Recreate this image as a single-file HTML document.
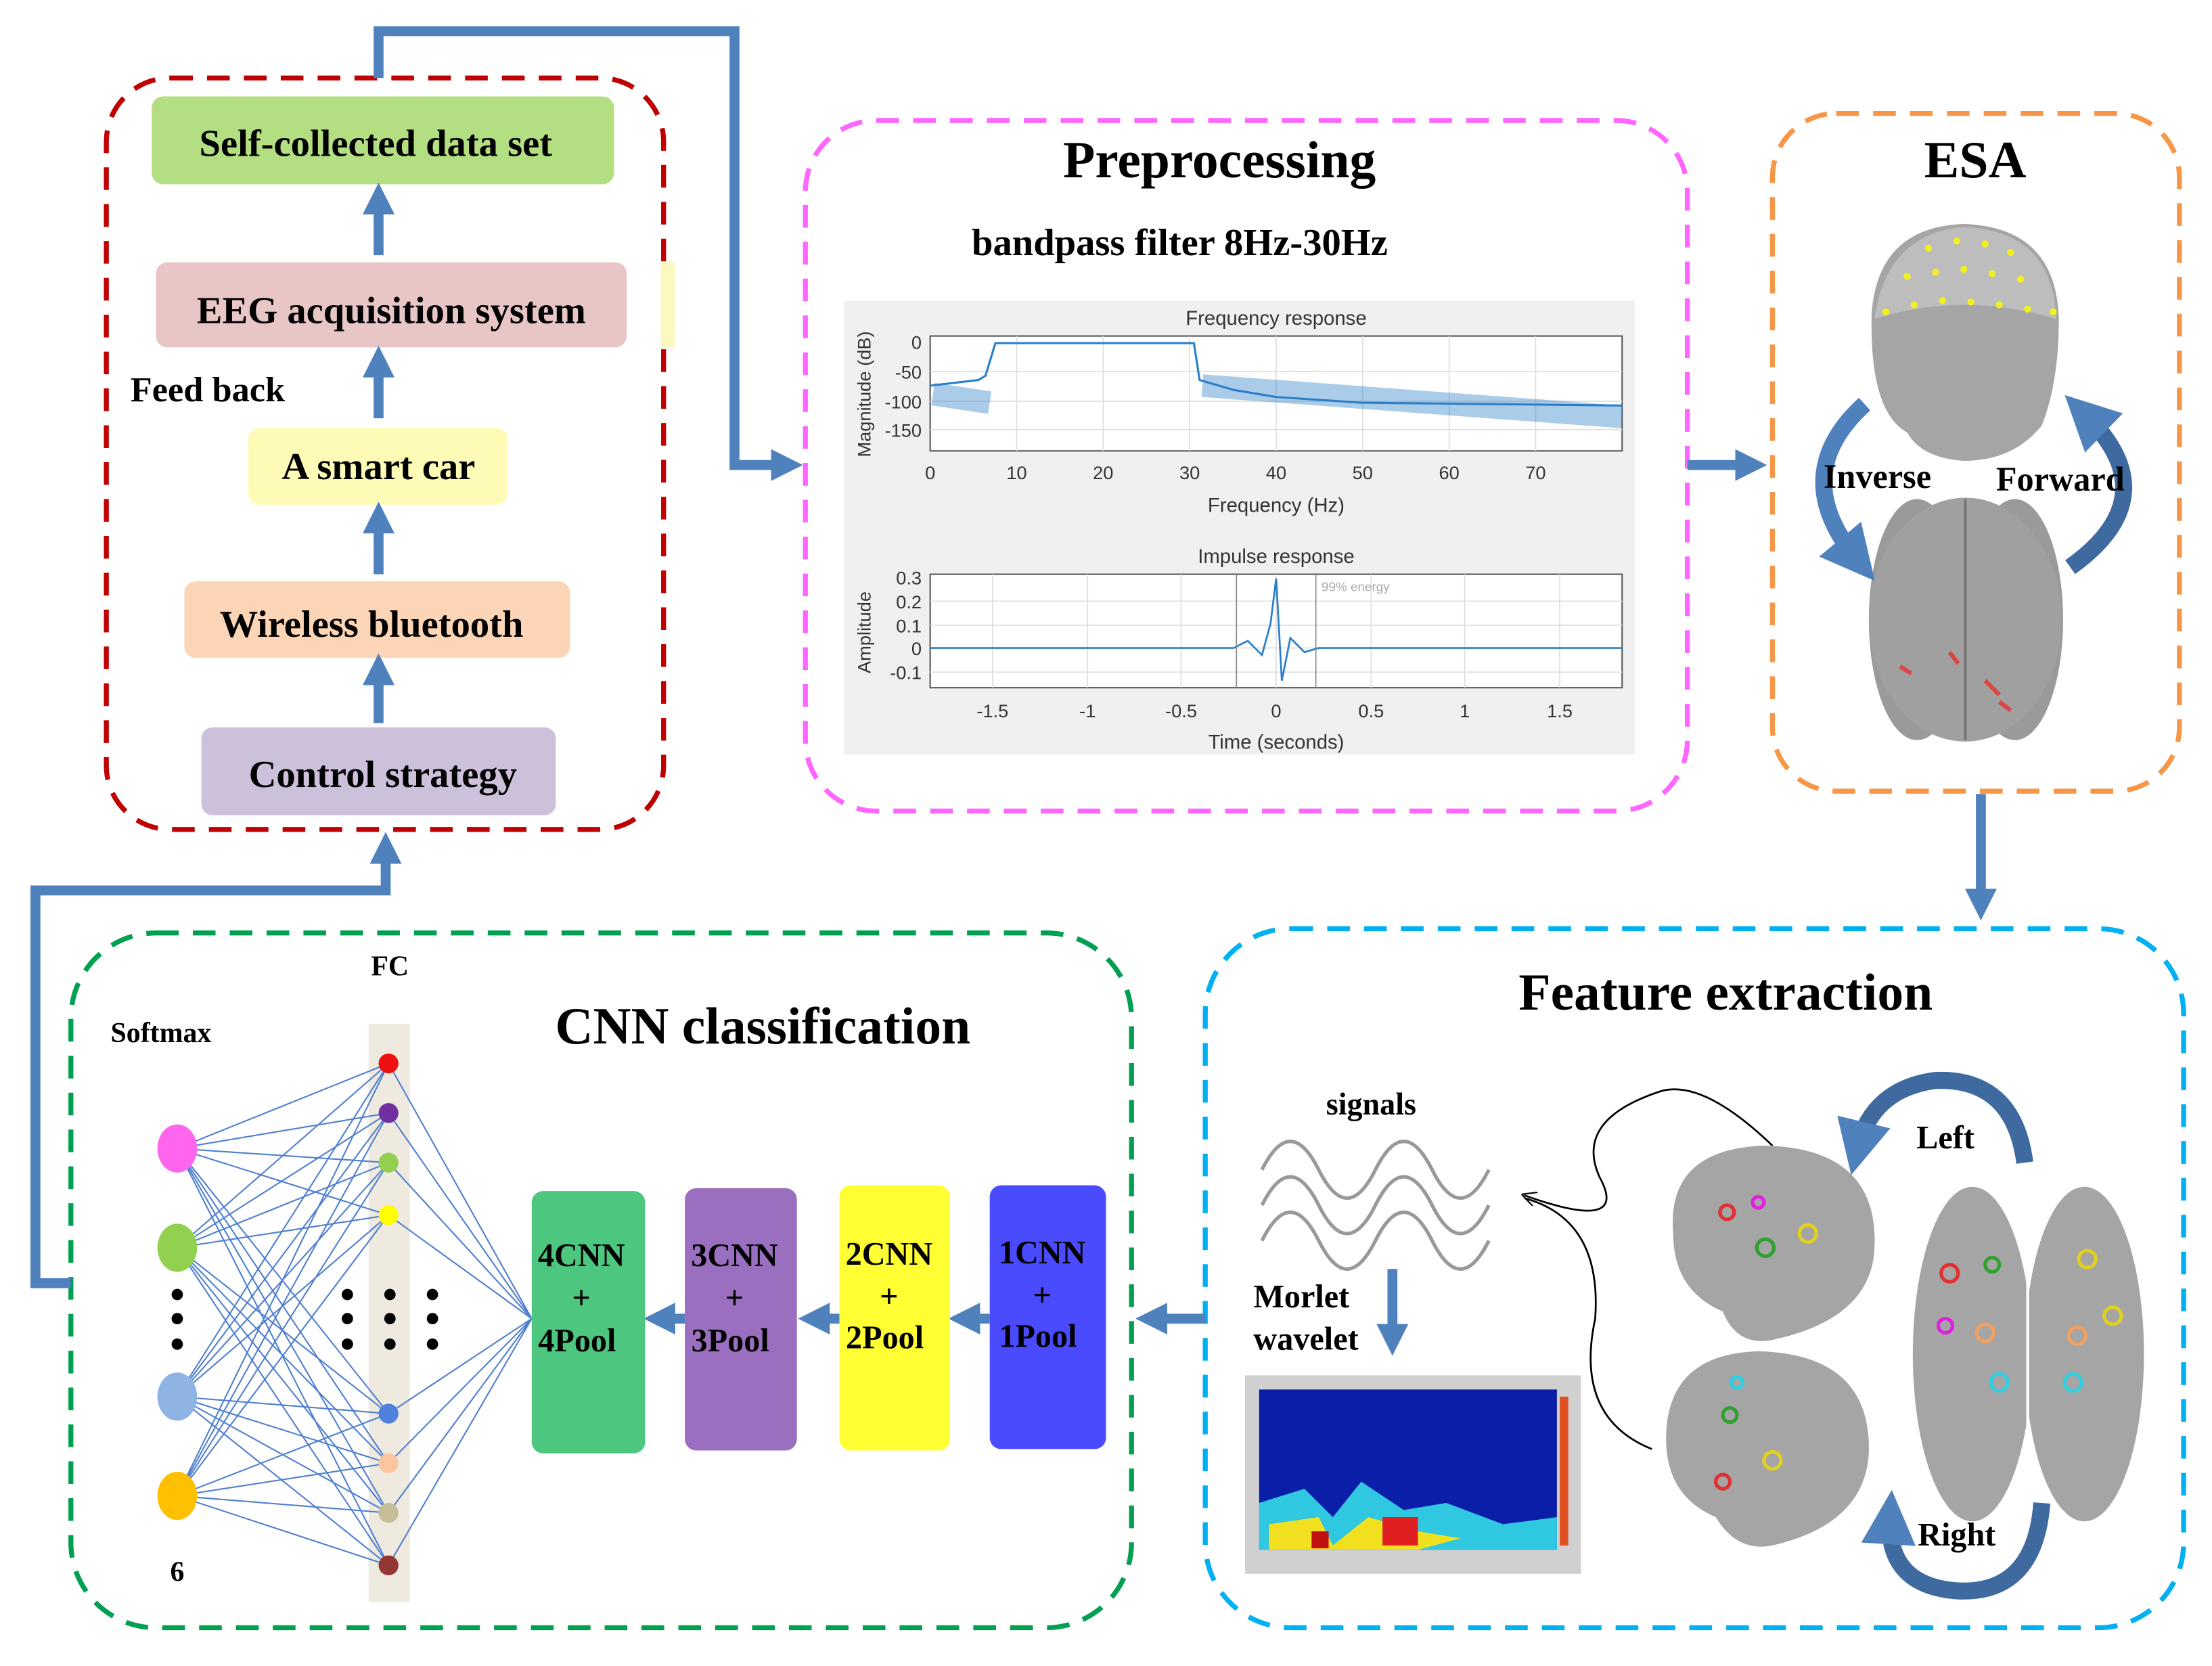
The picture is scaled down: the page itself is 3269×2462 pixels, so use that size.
<!DOCTYPE html>
<html><head><meta charset="utf-8"><style>
html,body{margin:0;padding:0;background:#fff;}
svg{display:block;}
text{font-family:"Liberation Serif",serif;font-weight:bold;}
.s{font-family:"Liberation Sans",sans-serif;font-weight:normal;}
</style></head><body>
<svg width="3269" height="2462" viewBox="0 0 1560 1175" preserveAspectRatio="none" xmlns="http://www.w3.org/2000/svg">
<defs>
<marker id="ah" viewBox="0 0 10 10" refX="5" refY="5" markerWidth="3.2" markerHeight="3.2" orient="auto"><path d="M0,0 L10,5 L0,10 z" fill="#4f81bd"/></marker>
<marker id="ab" viewBox="0 0 10 10" refX="8" refY="5" markerWidth="8" markerHeight="8" orient="auto"><path d="M0,0 L10,5 L0,10" fill="none" stroke="#000" stroke-width="1"/></marker>
</defs>
<rect x="75" y="55" width="393" height="530" rx="45" fill="none" stroke="#c00000" stroke-width="3.5" stroke-dasharray="16,10"/>
<rect x="568" y="85" width="622" height="487" rx="50" fill="none" stroke="#ff66ff" stroke-width="3.5" stroke-dasharray="16,10"/>
<rect x="1250" y="80" width="287" height="478" rx="45" fill="none" stroke="#f79646" stroke-width="3.5" stroke-dasharray="16,10"/>
<rect x="850" y="655" width="690" height="493" rx="60" fill="none" stroke="#00b0f0" stroke-width="3.5" stroke-dasharray="16,10"/>
<rect x="50" y="658" width="748" height="490" rx="60" fill="none" stroke="#00a050" stroke-width="3.5" stroke-dasharray="16,10"/>

<rect x="107" y="68" width="326" height="62" rx="8" fill="#b3de81"/>
<text x="265" y="110" font-size="27" text-anchor="middle">Self-collected  data set</text>
<rect x="110" y="185" width="332" height="60" rx="8" fill="#e9c6c6"/>
<rect x="466" y="185" width="10" height="60" fill="#fdf8c0"/>
<text x="276" y="228" font-size="27" text-anchor="middle">EEG acquisition system</text>
<text x="92" y="283" font-size="25">Feed back</text>
<rect x="175" y="302" width="183" height="54" rx="8" fill="#fdfbb5"/>
<text x="267" y="338" font-size="27" text-anchor="middle">A smart car</text>
<rect x="130" y="410" width="272" height="54" rx="8" fill="#fbd5b5"/>
<text x="262" y="449" font-size="27" text-anchor="middle">Wireless bluetooth</text>
<rect x="142" y="513" width="250" height="62" rx="8" fill="#ccc0da"/>
<text x="270" y="555" font-size="27" text-anchor="middle">Control strategy</text>
<g stroke="#4f81bd" stroke-width="7" fill="none" marker-end="url(#ah)">
<line x1="267" y1="180" x2="267" y2="140"/>
<line x1="267" y1="295" x2="267" y2="255"/>
<line x1="267" y1="405" x2="267" y2="365"/>
<line x1="267" y1="510" x2="267" y2="472"/>
<polyline points="267,55 267,22 518,22 518,328 555,328"/>
<line x1="1190" y1="328" x2="1235" y2="328"/>
<line x1="1397" y1="560" x2="1397" y2="638"/>
<polyline points="50,905 25,905 25,628 272,628 272,598"/>
<line x1="850" y1="930" x2="812" y2="930"/>
<line x1="698" y1="930" x2="680" y2="930"/>
<line x1="592" y1="930" x2="574" y2="930"/>
<line x1="483" y1="930" x2="465" y2="930"/>
<line x1="982" y1="895" x2="982" y2="945"/>
</g>

<text x="860" y="125" font-size="37" text-anchor="middle">Preprocessing</text>
<text x="832" y="180" font-size="27" text-anchor="middle">bandpass filter 8Hz-30Hz</text>
<rect x="595" y="212" width="558" height="320" fill="#f0f0f0"/>
<rect x="656" y="237" width="488" height="81" fill="#fff" stroke="#555" stroke-width="1"/>
<rect x="656" y="405" width="488" height="80" fill="#fff" stroke="#555" stroke-width="1"/>
<g stroke="#ddd" stroke-width="0.8">
<line x1="717" y1="237" x2="717" y2="318"/><line x1="778" y1="237" x2="778" y2="318"/><line x1="839" y1="237" x2="839" y2="318"/><line x1="900" y1="237" x2="900" y2="318"/><line x1="961" y1="237" x2="961" y2="318"/><line x1="1022" y1="237" x2="1022" y2="318"/><line x1="1083" y1="237" x2="1083" y2="318"/>
<line x1="656" y1="262" x2="1144" y2="262"/><line x1="656" y1="283" x2="1144" y2="283"/><line x1="656" y1="303" x2="1144" y2="303"/>
<line x1="700" y1="405" x2="700" y2="485"/><line x1="767" y1="405" x2="767" y2="485"/><line x1="833" y1="405" x2="833" y2="485"/><line x1="900" y1="405" x2="900" y2="485"/><line x1="967" y1="405" x2="967" y2="485"/><line x1="1033" y1="405" x2="1033" y2="485"/><line x1="1100" y1="405" x2="1100" y2="485"/>
<line x1="656" y1="424" x2="1144" y2="424"/><line x1="656" y1="441" x2="1144" y2="441"/><line x1="656" y1="457" x2="1144" y2="457"/><line x1="656" y1="474" x2="1144" y2="474"/>
</g>
<path d="M656,272 L690,268 L695,265 L702,242 L842,242 L846,268 L870,275 L900,280 L960,284 L1144,286" fill="none" stroke="#2a7fc8" stroke-width="1.5"/>
<path d="M658,278 L698,284 M848,272 L1144,294" stroke="#2a7fc8" stroke-width="16" opacity="0.4" fill="none"/>
<path d="M656,457 L870,457 L880,452 L890,462 L896,440 L900,408 L904,480 L910,450 L920,460 L930,457 L1144,457" fill="none" stroke="#2a7fc8" stroke-width="1.3"/>
<line x1="872" y1="405" x2="872" y2="485" stroke="#888" stroke-width="0.8"/><line x1="928" y1="405" x2="928" y2="485" stroke="#888" stroke-width="0.8"/>
<g class="s" font-size="13" fill="#333">
<text class="s" x="900" y="229" text-anchor="middle" font-size="14">Frequency response</text>
<text class="s" x="650" y="246" text-anchor="end">0</text><text class="s" x="650" y="267" text-anchor="end">-50</text><text class="s" x="650" y="288" text-anchor="end">-100</text><text class="s" x="650" y="308" text-anchor="end">-150</text>
<text class="s" x="656" y="338" text-anchor="middle">0</text><text class="s" x="717" y="338" text-anchor="middle">10</text><text class="s" x="778" y="338" text-anchor="middle">20</text><text class="s" x="839" y="338" text-anchor="middle">30</text><text class="s" x="900" y="338" text-anchor="middle">40</text><text class="s" x="961" y="338" text-anchor="middle">50</text><text class="s" x="1022" y="338" text-anchor="middle">60</text><text class="s" x="1083" y="338" text-anchor="middle">70</text>
<text class="s" x="900" y="361" text-anchor="middle" font-size="14">Frequency (Hz)</text>
<text class="s" x="614" y="278" text-anchor="middle" transform="rotate(-90 614 278)">Magnitude (dB)</text>
<text class="s" x="900" y="397" text-anchor="middle" font-size="14">Impulse response</text>
<text class="s" x="650" y="412" text-anchor="end">0.3</text><text class="s" x="650" y="429" text-anchor="end">0.2</text><text class="s" x="650" y="446" text-anchor="end">0.1</text><text class="s" x="650" y="462" text-anchor="end">0</text><text class="s" x="650" y="479" text-anchor="end">-0.1</text>
<text class="s" x="700" y="506" text-anchor="middle">-1.5</text><text class="s" x="767" y="506" text-anchor="middle">-1</text><text class="s" x="833" y="506" text-anchor="middle">-0.5</text><text class="s" x="900" y="506" text-anchor="middle">0</text><text class="s" x="967" y="506" text-anchor="middle">0.5</text><text class="s" x="1033" y="506" text-anchor="middle">1</text><text class="s" x="1100" y="506" text-anchor="middle">1.5</text>
<text class="s" x="900" y="528" text-anchor="middle" font-size="14">Time (seconds)</text>
<text class="s" x="614" y="446" text-anchor="middle" transform="rotate(-90 614 446)">Amplitude</text>
<text class="s" x="932" y="417" font-size="9" fill="#aaa">99% energy</text>
</g>

<text x="1393" y="125" font-size="37" text-anchor="middle">ESA</text>
<path d="M1320,220 Q1325,160 1385,158 Q1450,160 1452,225 Q1452,270 1440,300 Q1420,325 1385,325 Q1355,323 1345,305 Q1318,290 1320,220 z" fill="#a5a5a5"/>
<path d="M1322,225 Q1330,165 1385,160 Q1448,163 1450,225 Q1385,205 1322,225 z" fill="#bdbdbd"/>
<g fill="#f0f020">
<circle cx="1330" cy="220" r="2.5"/><circle cx="1350" cy="215" r="2.5"/><circle cx="1370" cy="212" r="2.5"/><circle cx="1390" cy="213" r="2.5"/><circle cx="1410" cy="215" r="2.5"/><circle cx="1430" cy="218" r="2.5"/><circle cx="1448" cy="220" r="2.5"/>
<circle cx="1345" cy="195" r="2.5"/><circle cx="1365" cy="192" r="2.5"/><circle cx="1385" cy="190" r="2.5"/><circle cx="1405" cy="193" r="2.5"/><circle cx="1425" cy="197" r="2.5"/>
<circle cx="1360" cy="175" r="2.5"/><circle cx="1380" cy="170" r="2.5"/><circle cx="1400" cy="172" r="2.5"/><circle cx="1418" cy="178" r="2.5"/>
</g>
<ellipse cx="1352" cy="437" rx="34" ry="85" fill="#9a9a9a"/>
<ellipse cx="1421" cy="437" rx="34" ry="85" fill="#9a9a9a"/>
<ellipse cx="1386" cy="437" rx="68" ry="86" fill="#a0a0a0"/>
<line x1="1386" y1="352" x2="1386" y2="522" stroke="#777" stroke-width="2"/>
<path d="M1340,470 l8,5 M1375,460 l6,8 M1400,480 l10,10 M1410,495 l8,6" stroke="#d44" stroke-width="3"/>
<path d="M1315,285 Q1260,335 1310,395" fill="none" stroke="#4f81bd" stroke-width="12" marker-end="url(#ah)"/>
<path d="M1460,400 Q1530,350 1470,292" fill="none" stroke="#3f6aa0" stroke-width="12" marker-end="url(#ah)"/>
<text x="1324" y="344" font-size="24" text-anchor="middle">Inverse</text>
<text x="1453" y="346" font-size="24" text-anchor="middle">Forward</text>

<text x="1217" y="712" font-size="37" text-anchor="middle">Feature extraction</text>
<text x="967" y="786" font-size="22" text-anchor="middle">signals</text>
<g fill="none" stroke="#999" stroke-width="2.5">
<path d="M890,825 q20,-40 40,0 t40,0 t40,0 t40,0"/>
<path d="M890,850 q20,-40 40,0 t40,0 t40,0 t40,0"/>
<path d="M890,875 q20,-40 40,0 t40,0 t40,0 t40,0"/>
</g>
<text x="884" y="922" font-size="23">Morlet</text>
<text x="884" y="952" font-size="23">wavelet</text>
<rect x="878" y="970" width="237" height="140" fill="#d0d0d0"/>
<rect x="888" y="980" width="210" height="113" fill="#0a1ea8"/>
<path d="M888,1060 L920,1050 L940,1070 L960,1045 L990,1065 L1020,1060 L1060,1075 L1098,1070 L1098,1093 L888,1093 z" fill="#30c8e0"/>
<path d="M895,1075 L930,1070 L940,1090 L965,1070 L1000,1080 L1030,1085 L1000,1093 L895,1093 z" fill="#f0e020"/>
<rect x="975" y="1070" width="25" height="20" fill="#e02020"/><rect x="925" y="1080" width="12" height="12" fill="#c01010"/>
<rect x="1100" y="985" width="6" height="105" fill="#e05020"/>
<path d="M1250,808 Q1200,760 1170,770 Q1110,790 1128,830 Q1150,870 1075,843" fill="none" stroke="#000" stroke-width="1.3" marker-end="url(#ab)"/>
<path d="M1165,1022 Q1110,1000 1125,930 Q1130,860 1075,845" fill="none" stroke="#000" stroke-width="1.3"/>
<path d="M1180,870 Q1175,810 1245,808 Q1325,810 1322,880 Q1320,930 1250,945 Q1225,950 1215,925 Q1180,910 1180,870 z" fill="#a5a5a5"/>
<path d="M1175,1015 Q1175,955 1240,953 Q1320,955 1318,1025 Q1315,1075 1250,1090 Q1225,1095 1210,1070 Q1175,1055 1175,1015 z" fill="#a5a5a5"/>
<ellipse cx="1391" cy="955" rx="42" ry="118" fill="#a5a5a5"/>
<ellipse cx="1470" cy="955" rx="42" ry="118" fill="#a5a5a5"/>
<line x1="1430" y1="838" x2="1430" y2="1072" stroke="#fff" stroke-width="2"/>
<g stroke-width="2.5" fill="none">
<circle cx="1218" cy="855" r="5" stroke="#e03030"/><circle cx="1245" cy="880" r="6" stroke="#30a030"/><circle cx="1275" cy="870" r="6" stroke="#e0d020"/><circle cx="1240" cy="848" r="4" stroke="#e020e0"/>
<circle cx="1220" cy="998" r="5" stroke="#30a030"/><circle cx="1250" cy="1030" r="6" stroke="#e0d020"/><circle cx="1215" cy="1045" r="5" stroke="#e03030"/><circle cx="1225" cy="975" r="4" stroke="#30d0e0"/>
<circle cx="1375" cy="898" r="6" stroke="#e03030"/><circle cx="1405" cy="892" r="5" stroke="#30a030"/><circle cx="1472" cy="888" r="6" stroke="#e0d020"/><circle cx="1372" cy="935" r="5" stroke="#e020e0"/><circle cx="1400" cy="940" r="6" stroke="#f0a060"/><circle cx="1465" cy="942" r="6" stroke="#f0a060"/><circle cx="1490" cy="928" r="6" stroke="#e0d020"/><circle cx="1410" cy="975" r="6" stroke="#30d0e0"/><circle cx="1462" cy="975" r="6" stroke="#30d0e0"/>
</g>
<path d="M1428,820 Q1420,760 1365,762 Q1320,768 1310,810" fill="none" stroke="#3f6aa0" stroke-width="12" marker-end="url(#ah)"/>
<path d="M1440,1060 Q1435,1125 1380,1122 Q1330,1118 1333,1070" fill="none" stroke="#3f6aa0" stroke-width="12" marker-end="url(#ah)"/>
<text x="1372" y="810" font-size="23" text-anchor="middle">Left</text>
<text x="1380" y="1090" font-size="23" text-anchor="middle">Right</text>

<text x="538" y="736" font-size="37" text-anchor="middle">CNN classification</text>
<text x="275" y="688" font-size="20" text-anchor="middle">FC</text>
<text x="78" y="735" font-size="20">Softmax</text>
<rect x="260" y="722" width="29" height="408" fill="#eeeae0"/>
<g stroke="#4f7fcf" stroke-width="1">
<path d="M125,810 L274,750 M125,810 L274,785 M125,810 L274,820 M125,810 L274,857 M125,810 L274,997 M125,810 L274,1032 M125,810 L274,1067 M125,810 L274,1104
M125,880 L274,750 M125,880 L274,785 M125,880 L274,820 M125,880 L274,857 M125,880 L274,997 M125,880 L274,1032 M125,880 L274,1067 M125,880 L274,1104
M125,985 L274,750 M125,985 L274,785 M125,985 L274,820 M125,985 L274,857 M125,985 L274,997 M125,985 L274,1032 M125,985 L274,1067 M125,985 L274,1104
M125,1055 L274,750 M125,1055 L274,785 M125,1055 L274,820 M125,1055 L274,857 M125,1055 L274,997 M125,1055 L274,1032 M125,1055 L274,1067 M125,1055 L274,1104
M274,750 L375,930 M274,785 L375,930 M274,820 L375,930 M274,857 L375,930 M274,997 L375,930 M274,1032 L375,930 M274,1067 L375,930 M274,1104 L375,930"/>
</g>
<circle cx="274" cy="750" r="7" fill="#ee1111"/><circle cx="274" cy="785" r="7" fill="#7030a0"/><circle cx="274" cy="820" r="7" fill="#92d050"/><circle cx="274" cy="857" r="7" fill="#ffff00"/><circle cx="274" cy="997" r="7" fill="#4f81dd"/><circle cx="274" cy="1032" r="7" fill="#fbc5a0"/><circle cx="274" cy="1067" r="7" fill="#c4bd97"/><circle cx="274" cy="1104" r="7" fill="#943634"/>
<ellipse cx="125" cy="810" rx="14" ry="17" fill="#ff66ee"/><ellipse cx="125" cy="880" rx="14" ry="17" fill="#92d050"/><ellipse cx="125" cy="985" rx="14" ry="17" fill="#8eb4e3"/><ellipse cx="125" cy="1055" rx="14" ry="17" fill="#ffc000"/>
<g fill="#000"><circle cx="125" cy="913" r="4"/><circle cx="125" cy="930" r="4"/><circle cx="125" cy="948" r="4"/>
<circle cx="245" cy="913" r="4"/><circle cx="245" cy="930" r="4"/><circle cx="245" cy="948" r="4"/>
<circle cx="275" cy="913" r="4"/><circle cx="275" cy="930" r="4"/><circle cx="275" cy="948" r="4"/>
<circle cx="305" cy="913" r="4"/><circle cx="305" cy="930" r="4"/><circle cx="305" cy="948" r="4"/></g>
<text x="125" y="1115" font-size="20" text-anchor="middle">6</text>
<rect x="375" y="840" width="80" height="185" rx="8" fill="#4dc680"/>
<rect x="483" y="838" width="79" height="185" rx="8" fill="#9b6fbf"/>
<rect x="592" y="836" width="78" height="187" rx="8" fill="#ffff33"/>
<rect x="698" y="836" width="82" height="186" rx="8" fill="#4a4aff"/>
<g font-size="23" text-anchor="middle">
<text x="410" y="893">4CNN</text><text x="410" y="923">+</text><text x="407" y="953">4Pool</text>
<text x="518" y="893">3CNN</text><text x="518" y="923">+</text><text x="515" y="953">3Pool</text>
<text x="627" y="892">2CNN</text><text x="627" y="922">+</text><text x="624" y="951">2Pool</text>
<text x="735" y="891">1CNN</text><text x="735" y="921">+</text><text x="732" y="950">1Pool</text>
</g>
</svg>
</body></html>
